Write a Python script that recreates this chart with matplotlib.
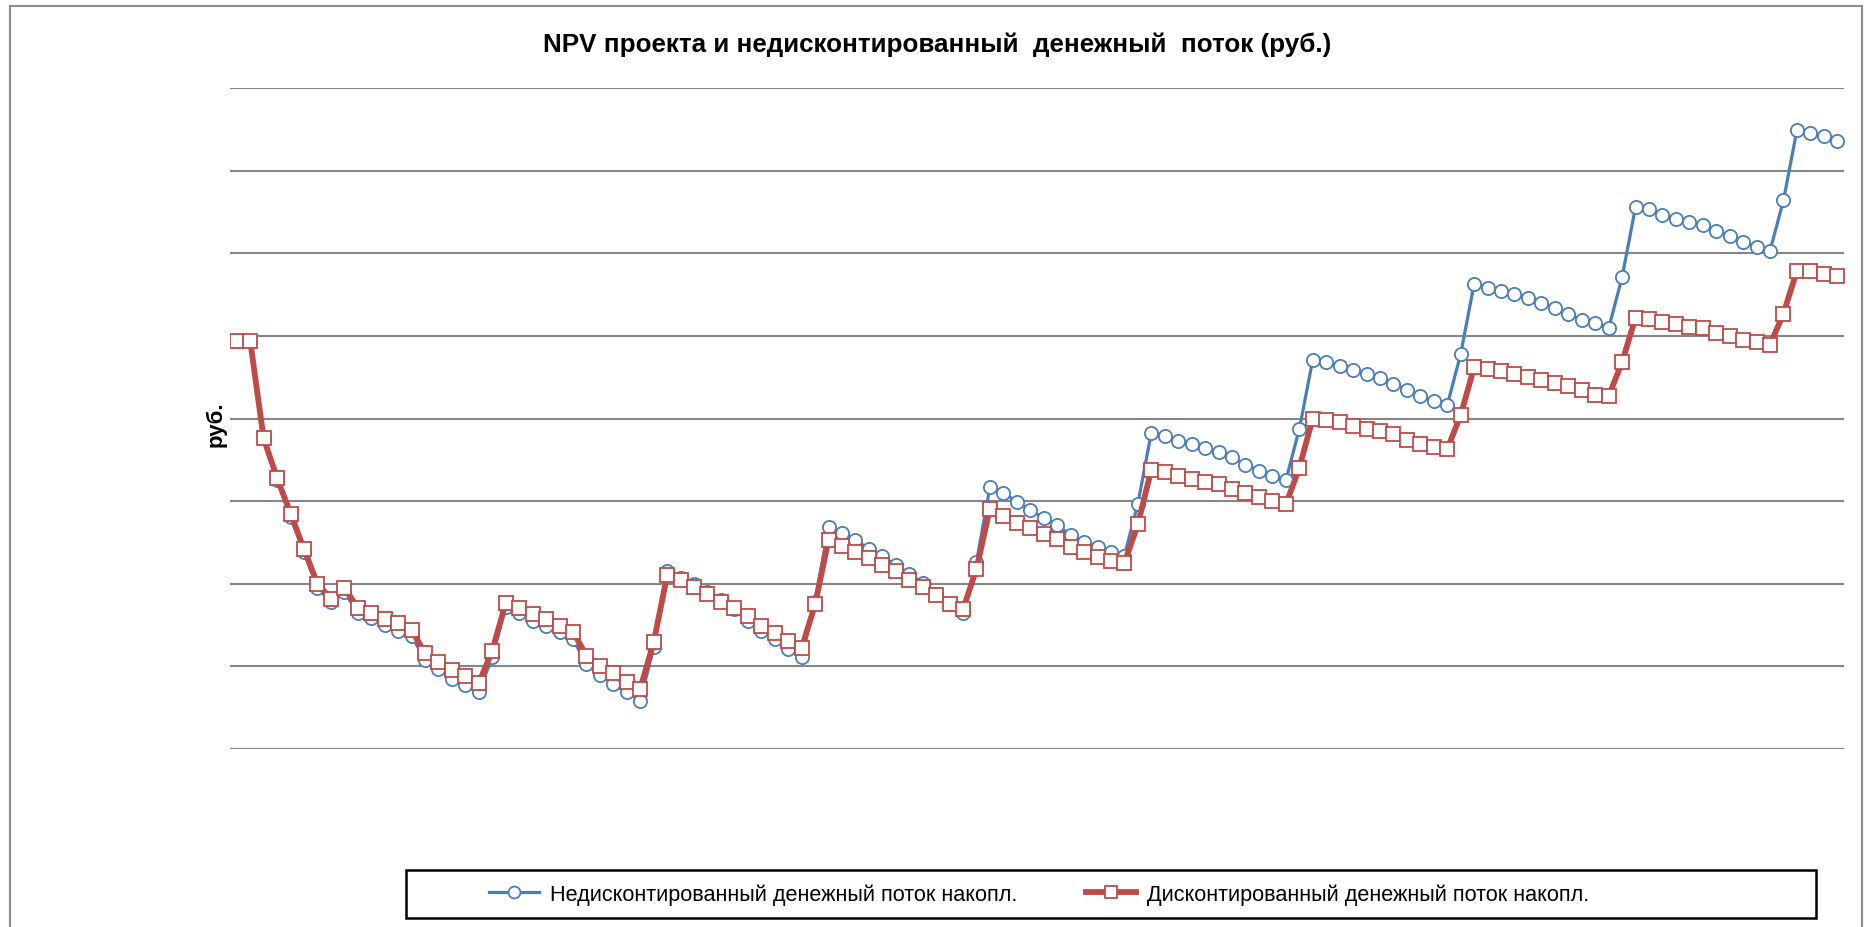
import numpy as np
import matplotlib
matplotlib.use("Agg")
import matplotlib.pyplot as plt
from matplotlib.patches import Rectangle

plt.rcParams['font.family'] = ['Liberation Sans', 'DejaVu Sans']

# cumulative cash flow by month, млн руб.
undiscounted = [
    -0.06, -0.06, -1.24, -1.74, -2.19, -2.62, -3.05, -3.22, -3.10, -3.35,
    -3.42, -3.50, -3.57, -3.63, -3.92, -4.03, -4.15, -4.23, -4.31, -3.89,
    -3.28, -3.35, -3.45, -3.51, -3.59, -3.67, -3.97, -4.11, -4.21, -4.31,
    -4.42, -3.77, -2.85, -2.93, -3.00, -3.10, -3.20, -3.31, -3.45, -3.57,
    -3.67, -3.79, -3.89, -3.22, -2.31, -2.38, -2.47, -2.58, -2.67, -2.77,
    -2.88, -2.99, -3.12, -3.24, -3.35, -2.74, -1.83, -1.90, -2.01, -2.11,
    -2.20, -2.29, -2.41, -2.49, -2.56, -2.62, -2.66, -2.03, -1.17, -1.21,
    -1.27, -1.31, -1.36, -1.41, -1.47, -1.56, -1.63, -1.70, -1.75, -1.13,
    -0.29, -0.32, -0.37, -0.41, -0.46, -0.51, -0.58, -0.65, -0.73, -0.79,
    -0.84, -0.22, 0.63, 0.58, 0.54, 0.51, 0.46, 0.40, 0.34, 0.27,
    0.19, 0.15, 0.09, 0.71, 1.56, 1.53, 1.46, 1.42, 1.38, 1.34,
    1.27, 1.21, 1.14, 1.08, 1.03, 1.64, 2.49, 2.45, 2.42, 2.36,
]
discounted = [
    -0.06, -0.06, -1.24, -1.72, -2.15, -2.58, -3.00, -3.18, -3.05, -3.29,
    -3.36, -3.43, -3.48, -3.56, -3.84, -3.95, -4.04, -4.12, -4.20, -3.81,
    -3.23, -3.29, -3.37, -3.43, -3.51, -3.58, -3.87, -3.99, -4.08, -4.19,
    -4.27, -3.71, -2.90, -2.96, -3.04, -3.12, -3.22, -3.29, -3.39, -3.51,
    -3.60, -3.69, -3.78, -3.25, -2.47, -2.54, -2.61, -2.69, -2.77, -2.85,
    -2.95, -3.04, -3.14, -3.24, -3.31, -2.82, -2.09, -2.18, -2.26, -2.32,
    -2.40, -2.46, -2.55, -2.62, -2.68, -2.72, -2.75, -2.28, -1.62, -1.65,
    -1.70, -1.73, -1.77, -1.79, -1.85, -1.90, -1.95, -2.00, -2.04, -1.60,
    -1.00, -1.02, -1.04, -1.09, -1.13, -1.15, -1.19, -1.26, -1.31, -1.34,
    -1.37, -0.96, -0.38, -0.40, -0.43, -0.46, -0.50, -0.53, -0.57, -0.61,
    -0.66, -0.71, -0.73, -0.32, 0.22, 0.20, 0.17, 0.14, 0.11, 0.09,
    0.04, 0.00, -0.05, -0.08, -0.11, 0.27, 0.79, 0.78, 0.75, 0.73,
]
months = np.arange(1, len(undiscounted) + 1)

W, H = 1871, 928
fig = plt.figure(figsize=(W / 100, H / 100), dpi=100)
ax = fig.add_axes([230 / W, 1 - 750 / H, (1844 - 230) / W, (750 - 89) / H])

# chart area border
fig.add_artist(Rectangle((10 / W, -0.05), (1862 - 10) / W, 1.05 - 7 / H,
                         transform=fig.transFigure, fill=False,
                         edgecolor='#8c8c8c', linewidth=1.5))

ax.plot(months, undiscounted, color='#4a7ebb', linewidth=2.3,
        marker='o', markersize=9.5, markerfacecolor='white',
        markeredgecolor='#4a7ebb', markeredgewidth=1.3,
        label='Недисконтированный денежный поток накопл.')
ax.plot(months, discounted, color='#be4b48', linewidth=4.2,
        marker='s', markersize=9.5, markerfacecolor='white',
        markeredgecolor='#be4b48', markeredgewidth=1.3,
        label='Дисконтированный денежный поток накопл.')

ax.set_xlim(0.5, len(months) + 0.5)
ax.set_ylim(-5, 3)
ax.set_yticks(np.arange(-5, 4))
ax.yaxis.grid(True, color='#868686', linewidth=1.5)
ax.set_axisbelow(True)
ax.tick_params(left=False, bottom=False, labelleft=False, labelbottom=False)
for s in ax.spines.values():
    s.set_visible(False)

fig.text(937 / W, 1 - 45 / H,
         'NPV проекта и недисконтированный  денежный  поток (руб.)',
         ha='center', va='center', fontsize=18.7, fontweight='bold')
fig.text(216 / W, 1 - 424 / H, 'руб.', rotation=90, ha='center',
         va='center', fontsize=16, fontweight='bold')

# legend box
fig.add_artist(Rectangle((406 / W, 1 - 919 / H), (1816 - 406) / W, 48 / H,
                         transform=fig.transFigure, fill=False,
                         edgecolor='black', linewidth=1.8))
fig.legend(loc='center', bbox_to_anchor=(1039 / W, 1 - 895 / H), ncol=2,
           frameon=False, fontsize=15.6, handlelength=2.3, handletextpad=0.5,
           columnspacing=3.2, markerscale=0.9)

fig.savefig('out.png', dpi=100)
